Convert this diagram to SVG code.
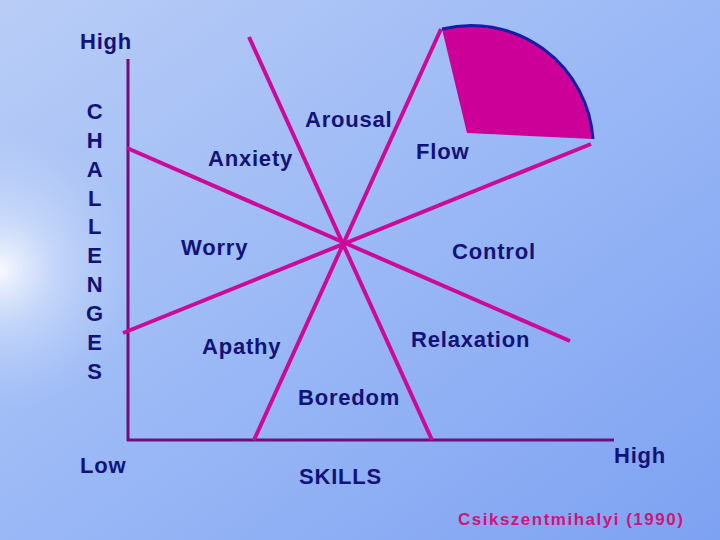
<svg xmlns="http://www.w3.org/2000/svg" width="720" height="540" viewBox="0 0 720 540">
<defs>
<linearGradient id="bg" x1="0" y1="0" x2="1" y2="1">
<stop offset="0" stop-color="#b9cdf6"/>
<stop offset="0.5" stop-color="#9ab8f6"/>
<stop offset="1" stop-color="#7ea2f2"/>
</linearGradient>
<radialGradient id="glow" cx="0" cy="270" r="140" gradientUnits="userSpaceOnUse">
<stop offset="0" stop-color="#ffffff" stop-opacity="0.9"/>
<stop offset="0.4" stop-color="#e6eefc" stop-opacity="0.45"/>
<stop offset="1" stop-color="#c8d8f8" stop-opacity="0"/>
</radialGradient>
<style>
.lbl{font-family:"Liberation Sans",Arial,sans-serif;font-size:22px;font-weight:bold;fill:#12127a;letter-spacing:0.8px}
.ax{stroke:#6e0f7c;stroke-width:3;fill:none}
.ln{stroke:#cc0a99;stroke-width:4;fill:none;stroke-linecap:butt}
.cite{font-family:"Liberation Sans",Arial,sans-serif;font-size:17px;font-weight:bold;fill:#d4127a;letter-spacing:1.5px}
</style>
</defs>
<rect width="720" height="540" fill="url(#bg)"/>
<rect width="720" height="540" fill="url(#glow)"/>
<g id="connectors">
<line class="ax" x1="128" y1="59" x2="128" y2="441"/>
<line class="ax" x1="127" y1="440" x2="614" y2="440"/>
<line class="ln" x1="249" y1="37" x2="432" y2="440"/>
<line class="ln" x1="441" y1="29" x2="254" y2="440"/>
<line class="ln" x1="127" y1="148" x2="570" y2="341"/>
<line class="ln" x1="123" y1="333" x2="591" y2="144"/>
</g>
<g id="flow-wedge">
<path d="M442,29 A122,122 0 0 1 593,139 L467,133 Z" fill="#cc0099"/>
<path d="M442,29 A122,122 0 0 1 593,139" fill="none" stroke="#1a1aa8" stroke-width="3"/>
</g>
<g id="axis-labels">
<text class="lbl" x="80" y="49">High</text>
<text class="lbl" x="80" y="473">Low</text>
<text class="lbl" x="299" y="484">SKILLS</text>
<text class="lbl" x="614" y="463">High</text>
<g id="challenges" class="lbl" text-anchor="middle">
<text x="95" y="119">C</text>
<text x="95" y="148">H</text>
<text x="95" y="177">A</text>
<text x="95" y="206">L</text>
<text x="95" y="234">L</text>
<text x="95" y="263">E</text>
<text x="95" y="292">N</text>
<text x="95" y="321">G</text>
<text x="95" y="350">E</text>
<text x="95" y="379">S</text>
</g>
</g>
<g id="arousal"><text class="lbl" x="305" y="127">Arousal</text></g>
<g id="anxiety"><text class="lbl" x="208" y="166">Anxiety</text></g>
<g id="flow"><text class="lbl" x="416" y="159">Flow</text></g>
<g id="worry"><text class="lbl" x="181" y="255">Worry</text></g>
<g id="control"><text class="lbl" x="452" y="259">Control</text></g>
<g id="relaxation"><text class="lbl" x="411" y="347">Relaxation</text></g>
<g id="apathy"><text class="lbl" x="202" y="354">Apathy</text></g>
<g id="boredom"><text class="lbl" x="298" y="405">Boredom</text></g>
<g id="citation"><text class="cite" x="458" y="525">Csikszentmihalyi (1990)</text></g>
</svg>
